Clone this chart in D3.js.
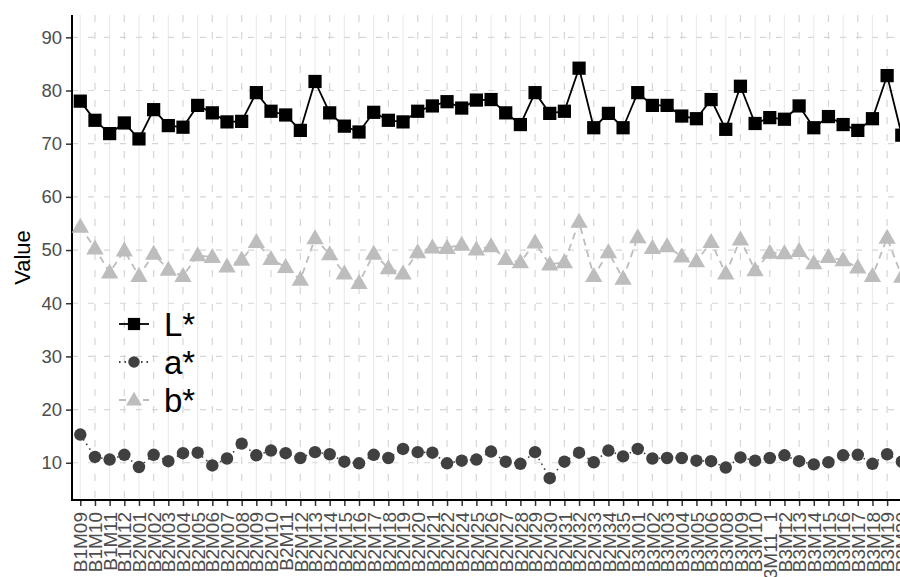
<!DOCTYPE html>
<html lang="en">
<head>
  <meta charset="UTF-8" />
  <title>L* a* b* by sample</title>
  <script src="https://d3js.org/d3.v7.min.js"></script>
  <style>
    html, body { margin: 0; padding: 0; background: #fff; }
    svg { display: block; font-family: "Liberation Sans", Arial, sans-serif; }
    .tick text { fill: #4d4d4d; }
  </style>
</head>
<body>
  <svg id="chart" width="900" height="577"></svg>

  <script>
    // samples along the x axis
    const samples = [
      'B1M09','B1M10','B1M11','B1M12',
      'B2M01','B2M02','B2M03','B2M04','B2M05','B2M06','B2M07','B2M08','B2M09','B2M10',
      'B2M11','B2M12','B2M13','B2M14','B2M15','B2M16','B2M17','B2M18','B2M19','B2M20',
      'B2M21','B2M22','B2M24','B2M25','B2M26','B2M27','B2M28','B2M29','B2M30','B2M31',
      'B2M32','B2M33','B2M34','B2M35',
      'B3M01','B3M02','B3M03','B3M04','B3M05','B3M06','B3M08','B3M09','B3M10','B3M11_1',
      'B3M12','B3M13','B3M14','B3M15','B3M16','B3M17','B3M18','B3M19','B3M20'
    ];

    const lValues = [
      78.0, 74.4, 71.9, 73.9,
      70.9, 76.4, 73.4, 73.1, 77.2, 75.8, 74.1, 74.2, 79.6, 76.1,
      75.4, 72.5, 81.7, 75.8, 73.3, 72.2, 75.9, 74.4, 74.1, 76.1,
      77.1, 77.9, 76.7, 78.2, 78.3, 75.8, 73.6, 79.6, 75.7, 76.1,
      84.2, 73.0, 75.7, 73.0,
      79.6, 77.2, 77.2, 75.2, 74.7, 78.3, 72.7, 80.8, 73.8, 74.9,
      74.6, 77.1, 73.0, 75.1, 73.6, 72.5, 74.7, 82.8, 71.6
    ];

    const aValues = [
      15.3, 11.1, 10.6, 11.5,
      9.2, 11.5, 10.3, 11.8, 11.9, 9.5, 10.8, 13.6, 11.4, 12.3,
      11.8, 10.9, 12.0, 11.6, 10.2, 9.9, 11.5, 10.9, 12.6, 12.0,
      11.9, 9.9, 10.4, 10.6, 12.1, 10.2, 9.8, 12.0, 7.1, 10.2,
      11.9, 10.1, 12.3, 11.2,
      12.6, 10.8, 10.9, 10.9, 10.4, 10.3, 9.1, 11.0, 10.4, 10.9,
      11.4, 10.3, 9.7, 10.1, 11.4, 11.5, 9.8, 11.6, 10.2
    ];

    const bValues = [
      54.4, 50.3, 45.8, 49.9,
      45.1, 49.3, 46.3, 45.1, 49.0, 48.7, 46.9, 48.2, 51.5, 48.3,
      46.8, 44.4, 52.2, 49.2, 45.6, 43.8, 49.3, 46.6, 45.6, 49.6,
      50.5, 50.4, 51.0, 50.1, 50.7, 48.3, 47.7, 51.4, 47.3, 47.7,
      55.3, 45.1, 49.6, 44.6,
      52.4, 50.4, 50.7, 48.8, 47.9, 51.5, 45.6, 52.0, 46.2, 49.5,
      49.4, 49.8, 47.5, 48.7, 48.1, 46.7, 45.1, 52.3, 45.0
    ];

    const yTicks = [10, 20, 30, 40, 50, 60, 70, 80, 90];

    const series = [
      { name: 'L*', values: lValues, color: '#000000', lineColor: '#000000', dash: null, shape: d3.symbolSquare, size: 175 },
      { name: 'a*', values: aValues, color: '#404040', lineColor: '#404040', dash: '1.5,4', shape: d3.symbolCircle, size: 122 },
      { name: 'b*', values: bValues, color: '#bdbdbd', lineColor: '#bdbdbd', dash: '7,5', shape: d3.symbolTriangle, size: 130 }
    ];

    const svg = d3.select('#chart');
    const plotL = 72, plotT = 15, plotB = 500, plotR = 911;

    const x = d3.scalePoint().domain(samples).range([80.3, 901.8]);
    const y = d3.scaleLinear().domain([3.0, 94.2]).range([plotB, plotT]);

    // grid: every other sample line is dashed
    const grid = svg.append('g');
    grid.selectAll('.vgrid').data(samples).join('line')
      .attr('x1', d => x(d)).attr('x2', d => x(d))
      .attr('y1', plotT).attr('y2', plotB)
      .attr('stroke', (d, i) => i % 2 ? '#d6d6d6' : '#ececec')
      .attr('stroke-width', 1.2)
      .attr('stroke-dasharray', (d, i) => i % 2 ? '7,10' : null);
    grid.selectAll('.hgrid').data(yTicks).join('line')
      .attr('x1', plotL).attr('x2', plotR)
      .attr('y1', d => y(d)).attr('y2', d => y(d))
      .attr('stroke', '#d6d6d6').attr('stroke-width', 1.2)
      .attr('stroke-dasharray', '6,10');

    // axes
    const yAxis = svg.append('g').attr('transform', `translate(${plotL},0)`)
      .call(d3.axisLeft(y).tickValues(yTicks).tickSize(6).tickPadding(4));
    yAxis.select('.domain').remove();
    yAxis.selectAll('.tick line').attr('stroke', '#333').attr('stroke-width', 1.5);
    yAxis.selectAll('.tick text').attr('font-size', 18.5).attr('font-family', '"Liberation Sans", Arial, sans-serif');

    const xAxis = svg.append('g').attr('transform', `translate(0,${plotB})`)
      .call(d3.axisBottom(x).tickSize(6).tickPadding(4));
    xAxis.select('.domain').remove();
    xAxis.selectAll('.tick line').attr('stroke', '#333').attr('stroke-width', 1.5);
    xAxis.selectAll('.tick text')
      .attr('font-size', 19).attr('font-family', '"Liberation Sans", Arial, sans-serif')
      .attr('text-anchor', 'end')
      .attr('transform', 'rotate(-90)')
      .attr('x', -12).attr('y', 0).attr('dy', '0.35em');

    svg.append('line').attr('x1', plotL).attr('x2', plotL).attr('y1', plotT).attr('y2', plotB + 1)
      .attr('stroke', '#000').attr('stroke-width', 2);
    svg.append('line').attr('x1', plotL - 1).attr('x2', plotR).attr('y1', plotB).attr('y2', plotB)
      .attr('stroke', '#000').attr('stroke-width', 2);

    svg.append('text').attr('transform', `translate(30,${(plotT + plotB) / 2}) rotate(-90)`)
      .attr('text-anchor', 'middle').attr('font-size', 22).attr('fill', '#000').text('Value');

    // lines and points
    const line = d3.line().x((d, i) => x(samples[i])).y(d => y(d));
    series.forEach(s => {
      svg.append('path').datum(s.values)
        .attr('d', line).attr('fill', 'none')
        .attr('stroke', s.lineColor).attr('stroke-width', s.name === 'a*' ? 1.6 : 1.8)
        .attr('stroke-dasharray', s.dash);
    });
    series.forEach(s => {
      const sym = d3.symbol().type(s.shape).size(s.size);
      svg.append('g').selectAll('path').data(s.values).join('path')
        .attr('d', sym)
        .attr('transform', (d, i) => `translate(${x(samples[i])},${y(d) + (s.shape === d3.symbolTriangle ? 1 : 0)})`)
        .attr('fill', s.color);
    });

    // legend
    const legend = svg.append('g');
    series.forEach((s, i) => {
      const cy = 324 + i * 38;
      legend.append('line').attr('x1', 119).attr('x2', 149).attr('y1', cy).attr('y2', cy)
        .attr('stroke', s.lineColor).attr('stroke-width', 1.8).attr('stroke-dasharray', s.dash);
      legend.append('path').attr('d', d3.symbol().type(s.shape).size(s.size * 0.85))
        .attr('transform', `translate(134,${cy + (s.shape === d3.symbolTriangle ? 1 : 0)})`)
        .attr('fill', s.color);
      legend.append('text').attr('x', 164).attr('y', cy + 12)
        .attr('font-size', 33).attr('fill', '#000').text(s.name);
    });
  </script>
</body>
</html>
